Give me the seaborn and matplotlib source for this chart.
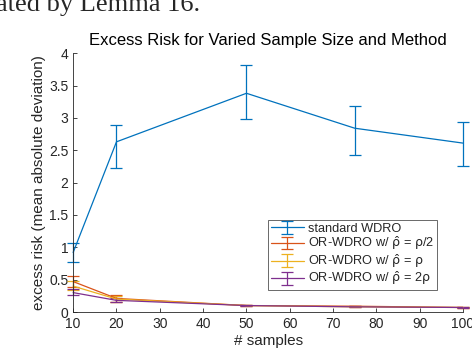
import matplotlib
matplotlib.use("Agg")
import matplotlib.pyplot as plt
import numpy as np
import seaborn as sns

# values
samples = [10, 20, 50, 75, 100]
std_mean = [0.92, 2.63, 3.38, 2.84, 2.61]
std_lo = [0.77, 2.22, 2.99, 2.43, 2.26]
std_hi = [1.07, 2.89, 3.82, 3.18, 2.93]
half_mean = [0.47, 0.21, 0.10, 0.09, 0.07]
half_lo = [0.38, 0.16, 0.09, 0.08, 0.06]
half_hi = [0.56, 0.26, 0.11, 0.10, 0.08]
same_mean = [0.40, 0.20, 0.10, 0.08, 0.07]
same_lo = [0.34, 0.16, 0.09, 0.07, 0.06]
same_hi = [0.48, 0.24, 0.11, 0.09, 0.08]
dbl_mean = [0.30, 0.18, 0.10, 0.08, 0.07]
dbl_lo = [0.26, 0.15, 0.09, 0.07, 0.06]
dbl_hi = [0.35, 0.22, 0.11, 0.09, 0.08]
labels = ["standard WDRO", r"OR-WDRO w/ $\hat{\rho}$ = $\rho$/2",
          r"OR-WDRO w/ $\hat{\rho}$ = $\rho$", r"OR-WDRO w/ $\hat{\rho}$ = 2$\rho$"]
colors = ["#0072BD", "#D95319", "#EDB120", "#7E2F8E"]

sns.set_style("ticks")
plt.rcParams['font.family'] = ['Liberation Sans', 'DejaVu Sans']
plt.rcParams['mathtext.fontset'] = 'custom'
plt.rcParams['mathtext.rm'] = 'Liberation Sans'
plt.rcParams['mathtext.it'] = 'DejaVu Sans'

fig = plt.figure(figsize=(4.72, 3.52), dpi=100)
ax = fig.add_axes([0.155, 0.1136, 0.826, 0.7354])

series = [(std_mean, std_lo, std_hi), (half_mean, half_lo, half_hi),
          (same_mean, same_lo, same_hi), (dbl_mean, dbl_lo, dbl_hi)]
for (m, lo, hi), lab, c in zip(series, labels, colors):
    m = np.array(m)
    err = [m - np.array(lo), np.array(hi) - m]
    cont = ax.errorbar(samples, m, yerr=err, color=c, lw=0.9, elinewidth=0.9,
                       capsize=4, capthick=0.9, label=lab)
    for art in cont.lines[1] + cont.lines[2]:
        art.set_clip_on(False)
    cont.lines[0].set_clip_on(False)

ax.set_xlim(10, 100)
ax.set_ylim(0, 4)
ax.set_xticks(range(10, 101, 10))
ax.set_yticks(np.arange(0, 4.01, 0.5))
ax.set_yticklabels(["0", "0.5", "1", "1.5", "2", "2.5", "3", "3.5", "4"])
ax.tick_params(direction="in", length=3, labelsize=10, colors="#262626",
               width=0.6)
for s in ["top", "right"]:
    ax.spines[s].set_visible(False)
for s in ["left", "bottom"]:
    ax.spines[s].set_color("#262626")
    ax.spines[s].set_linewidth(0.6)
ax.set_xlabel("# samples", fontsize=11, color="#262626", labelpad=2)
ax.set_ylabel("excess risk (mean absolute deviation)", fontsize=11,
              color="#262626", labelpad=2)
ax.set_title("Excess Risk for Varied Sample Size and Method", fontsize=12,
             color="black", pad=6)

leg = ax.legend(loc="upper left", bbox_to_anchor=(0.5, 0.355), fontsize=9.2,
                frameon=True, fancybox=False, borderpad=0.2,
                labelspacing=0.0, handlelength=2.6, handleheight=0.6,
                handletextpad=0.35, borderaxespad=0)
leg.get_frame().set_edgecolor("#262626")
leg.get_frame().set_linewidth(0.6)

fig.text(-0.008, 0.969, "ated by Lemma 16.", fontsize=19,
         family=["Liberation Serif", "DejaVu Serif"], va="baseline")

fig.savefig("out.png", dpi=100)
